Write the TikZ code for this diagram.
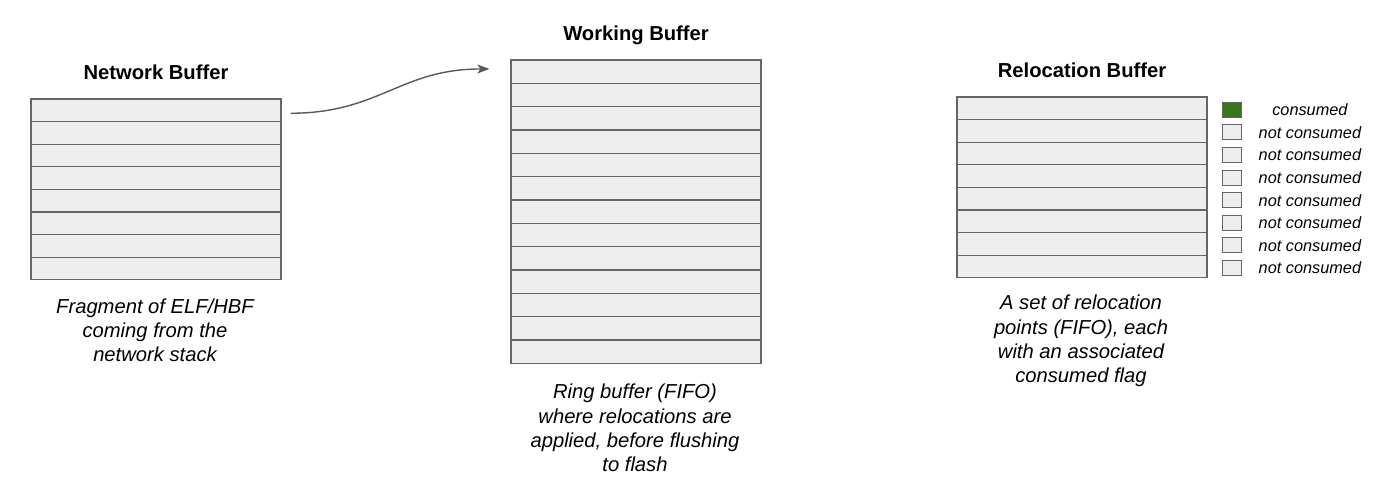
\documentclass[tikz,border=0pt]{standalone}
\usepackage{fontspec}
\setmainfont{Liberation Sans}
\usetikzlibrary{calc,arrows.meta}
\definecolor{cellfill}{HTML}{EEEEEE}
\definecolor{celldraw}{HTML}{666666}
\definecolor{flaggreen}{HTML}{38761D}
\definecolor{arrowgray}{HTML}{595959}

\tikzset{
  cell/.style={draw=celldraw, fill=cellfill, line width=1.2pt, inner sep=0pt,
               minimum width=250pt, minimum height=#1},
  flag/.style={draw=celldraw, fill=cellfill, line width=1.1pt, inner sep=0pt,
               minimum width=19pt, minimum height=15pt},
  title/.style={font=\fontsize{20.2}{23}\selectfont\bfseries},
  descr/.style={font=\fontsize{20.2}{24.2}\selectfont\itshape, align=center},
  flagtext/.style={font=\fontsize{16.3}{18}\selectfont\itshape}
}

\begin{document}
\begin{tikzpicture}[x=1pt,y=-1pt]
\useasboundingbox (0,0) rectangle (1384,481);
\def\nh{22.6} % row height, network and relocation buffers
\def\wh{23.33} % row height, working buffer

% network buffer
\foreach \i in {1,...,8}
  \node[cell=\nh pt] (nb\i) at (156, {99+(\i-0.5)*\nh}) {};
\node[title] (nbtitle) at (156,72) {Network Buffer};
\node[descr] (nbdescr) at (155,330.5) {Fragment of ELF/HBF\\coming from the\\network stack};

% working buffer
\foreach \i in {1,...,13}
  \node[cell=\wh pt] (wb\i) at (636, {60+(\i-0.5)*\wh}) {};
\node[title] (wbtitle) at (636,35) {Working Buffer};
\node[descr] (wbdescr) at (635,428) {Ring buffer (FIFO)\\where relocations are\\applied, before flushing\\to flash};

% relocation buffer with its flags
\foreach \i in {1,...,8}
{
  \node[cell=\nh pt] (rb\i) at (1082, {97+(\i-0.5)*\nh}) {};
  \node[flag] (fl\i) at ($(rb\i.east)+(24.3,1.5)$) {};
  \node[flagtext] (ft\i) at ($(fl\i)+(78,0)$) {\ifnum\i=1 consumed\else not consumed\fi};
}
\node[flag, fill=flaggreen] at (fl1) {};
\node[title] (rbtitle) at (1082,70) {Relocation Buffer};
\node[descr] (rbdescr) at (1081,341) {A set of relocation\\points (FIFO), each\\with an associated\\consumed flag};

\draw[arrowgray, line width=1.4pt, -{Stealth[length=12pt,width=9pt,inset=3pt]}]
  ($(nb1.east)+(9,3)$) .. controls (380,113) and (400,69) .. ($(wb1.west)+(-21,-2.7)$);
\end{tikzpicture}
\end{document}
